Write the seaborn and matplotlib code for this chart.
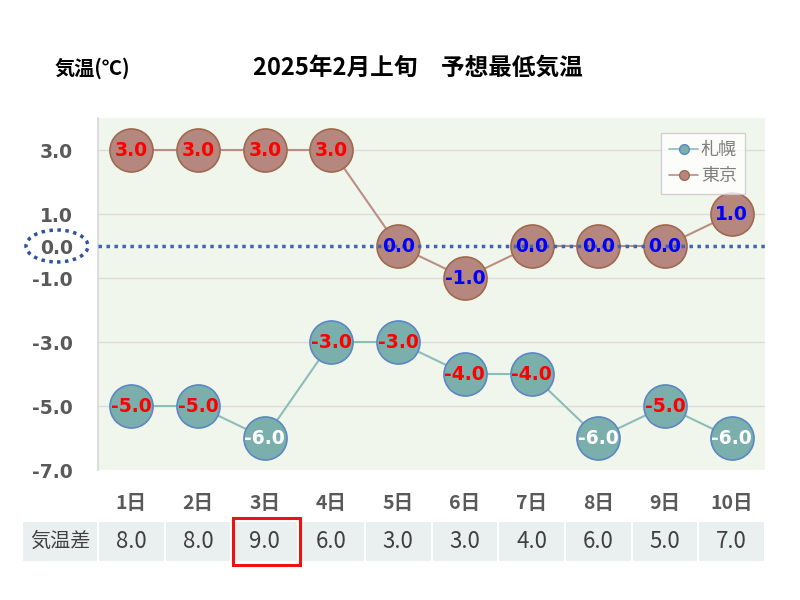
import matplotlib
matplotlib.use("Agg")
import matplotlib.pyplot as plt
import seaborn as sns
import pandas as pd
from matplotlib.patches import Rectangle, Ellipse
from matplotlib.transforms import blended_transform_factory
from matplotlib.lines import Line2D

# ---- data ----
days = ["1日", "2日", "3日", "4日", "5日", "6日", "7日", "8日", "9日", "10日"]
sapporo = [-5.0, -5.0, -6.0, -3.0, -3.0, -4.0, -4.0, -6.0, -5.0, -6.0]
tokyo = [3.0, 3.0, 3.0, 3.0, 0.0, -1.0, 0.0, 0.0, 0.0, 1.0]
diff = [8.0, 8.0, 9.0, 6.0, 3.0, 3.0, 4.0, 6.0, 5.0, 7.0]
sapporo_label_colors = ["red", "red", "white", "red", "red", "red", "red", "white", "red", "white"]
tokyo_label_colors = ["red", "red", "red", "red", "blue", "blue", "blue", "blue", "blue", "blue"]
yticks = [3.0, 1.0, 0.0, -1.0, -3.0, -5.0, -7.0]
highlight_day = 2

sns.set_theme(style="white")
plt.rcParams["font.family"] = ["Noto Sans CJK JP", "DejaVu Sans"]

fig = plt.figure(figsize=(8, 6), dpi=100)
ax = fig.add_axes([98 / 800, 1 - 470 / 600, 667 / 800, 352 / 600])
ax.set_facecolor("#f1f6ec")

x = list(range(len(days)))
df = pd.DataFrame({"x": x * 2, "v": sapporo + tokyo,
                   "city": ["札幌"] * len(days) + ["東京"] * len(days)})

fills = {"札幌": "#7aafac", "東京": "#b5877e"}
edges = {"札幌": "#5b87c5", "東京": "#a0694f"}
lines = {"札幌": "#8dbdb9", "東京": "#b98f84"}

for city in ["札幌", "東京"]:
    sub = df[df.city == city]
    sns.lineplot(data=sub, x="x", y="v", ax=ax, color=lines[city], lw=1.5,
                 marker="o", markersize=31, markerfacecolor=fills[city],
                 markeredgecolor=edges[city], markeredgewidth=1.2,
                 legend=False, zorder=3)

# zero dotted line
ax.axhline(0, color="#3d63b5", lw=2.5, ls=(0, (1, 1.3)), zorder=4)

for xi, v, c in zip(x, sapporo, sapporo_label_colors):
    ax.text(xi, v, f"{v:.1f}", ha="center", va="center", color=c,
            fontsize=13.5, fontweight="bold", family="DejaVu Sans", zorder=5)
for xi, v, c in zip(x, tokyo, tokyo_label_colors):
    ax.text(xi, v, f"{v:.1f}", ha="center", va="center", color=c,
            fontsize=13.5, fontweight="bold", family="DejaVu Sans", zorder=5)

ax.set_xlim(-0.5, len(days) - 0.5)
ax.set_ylim(-7, 4)
ax.set_yticks(yticks)
ax.set_yticklabels([f"{t:.1f}" for t in yticks], fontsize=13.5, fontweight="bold",
                   color="#595959", family="DejaVu Sans")
for t in yticks:
    if t != 0 and t != -7:
        ax.axhline(t, color="#dcdcdc", lw=1, zorder=1)
ax.set_xticks(x)
ax.set_xticklabels(days, fontsize=14, fontweight="bold", color="#595959")
ax.tick_params(axis="x", length=0, pad=17)
ax.tick_params(axis="y", length=0, pad=18)
ax.set_xlabel("")
ax.set_ylabel("")
for s in ax.spines.values():
    s.set_visible(False)
ax.spines["left"].set_visible(True)
ax.spines["left"].set_color("#d9d9d9")

# ellipse around 0.0 label
fig.patches.append(Ellipse((57 / 800, 1 - 246 / 600), 62 / 800, 32 / 600,
                           transform=fig.transFigure, fill=False,
                           edgecolor="#2f52a0", lw=2.5, ls=(0, (1, 1.3))))

# legend
handles = [Line2D([0], [0], color=lines[c], marker="o", markersize=7,
                  markerfacecolor=fills[c], markeredgecolor=edges[c], lw=1.2)
           for c in ["札幌", "東京"]]
leg = ax.legend(handles, ["札幌", "東京"], loc="upper right",
                bbox_to_anchor=(0.970, 0.957), frameon=True, fancybox=False,
                fontsize=13, handlelength=1.6, handletextpad=0.15,
                labelspacing=0.45, borderpad=0.45, borderaxespad=0)
leg.get_frame().set_edgecolor("#c8c8c8")
leg.get_frame().set_facecolor("white")
for t in leg.get_texts():
    t.set_color("#7f7f7f")

# titles
fig.text(55 / 800, 1 - 68 / 600, "気温(℃)", fontsize=14.5, fontweight="bold",
         ha="left", va="center", color="black")
fig.text(418 / 800, 1 - 68 / 600, "2025年2月上旬　予想最低気温", fontsize=17,
         fontweight="bold", ha="center", va="center", color="black")

# table row
tr = blended_transform_factory(ax.transData, fig.transFigure)
ytop = 1 - 521 / 600
ybot = 1 - 562 / 600
h = ytop - ybot
cell_color = "#e9f0ef"
fig_x0 = (22 - 98) / 66.7 - 0.5
ax.add_patch(Rectangle((fig_x0, ybot), -0.5 - fig_x0, h, transform=tr,
                       facecolor=cell_color, edgecolor="white", lw=1.5,
                       clip_on=False, zorder=1))
ax.text((fig_x0 - 0.5) / 2, ybot + h / 2, "気温差", transform=tr, ha="center",
        va="center", fontsize=14.5, color="#404040")
for xi, d in zip(x, diff):
    ax.add_patch(Rectangle((xi - 0.5, ybot), 1, h, transform=tr,
                           facecolor=cell_color, edgecolor="white", lw=1.5,
                           clip_on=False, zorder=1))
    ax.text(xi, ybot + h / 2, f"{d:.1f}", transform=tr, ha="center",
            va="center", fontsize=16, color="#404040")
ax.add_patch(Rectangle((highlight_day - 0.47, ybot - 3 / 600), 1.0, h + 6 / 600,
                       transform=tr, facecolor="none", edgecolor="#ee1111",
                       lw=2.2, clip_on=False, zorder=6))

fig.savefig("out.png", dpi=100)
